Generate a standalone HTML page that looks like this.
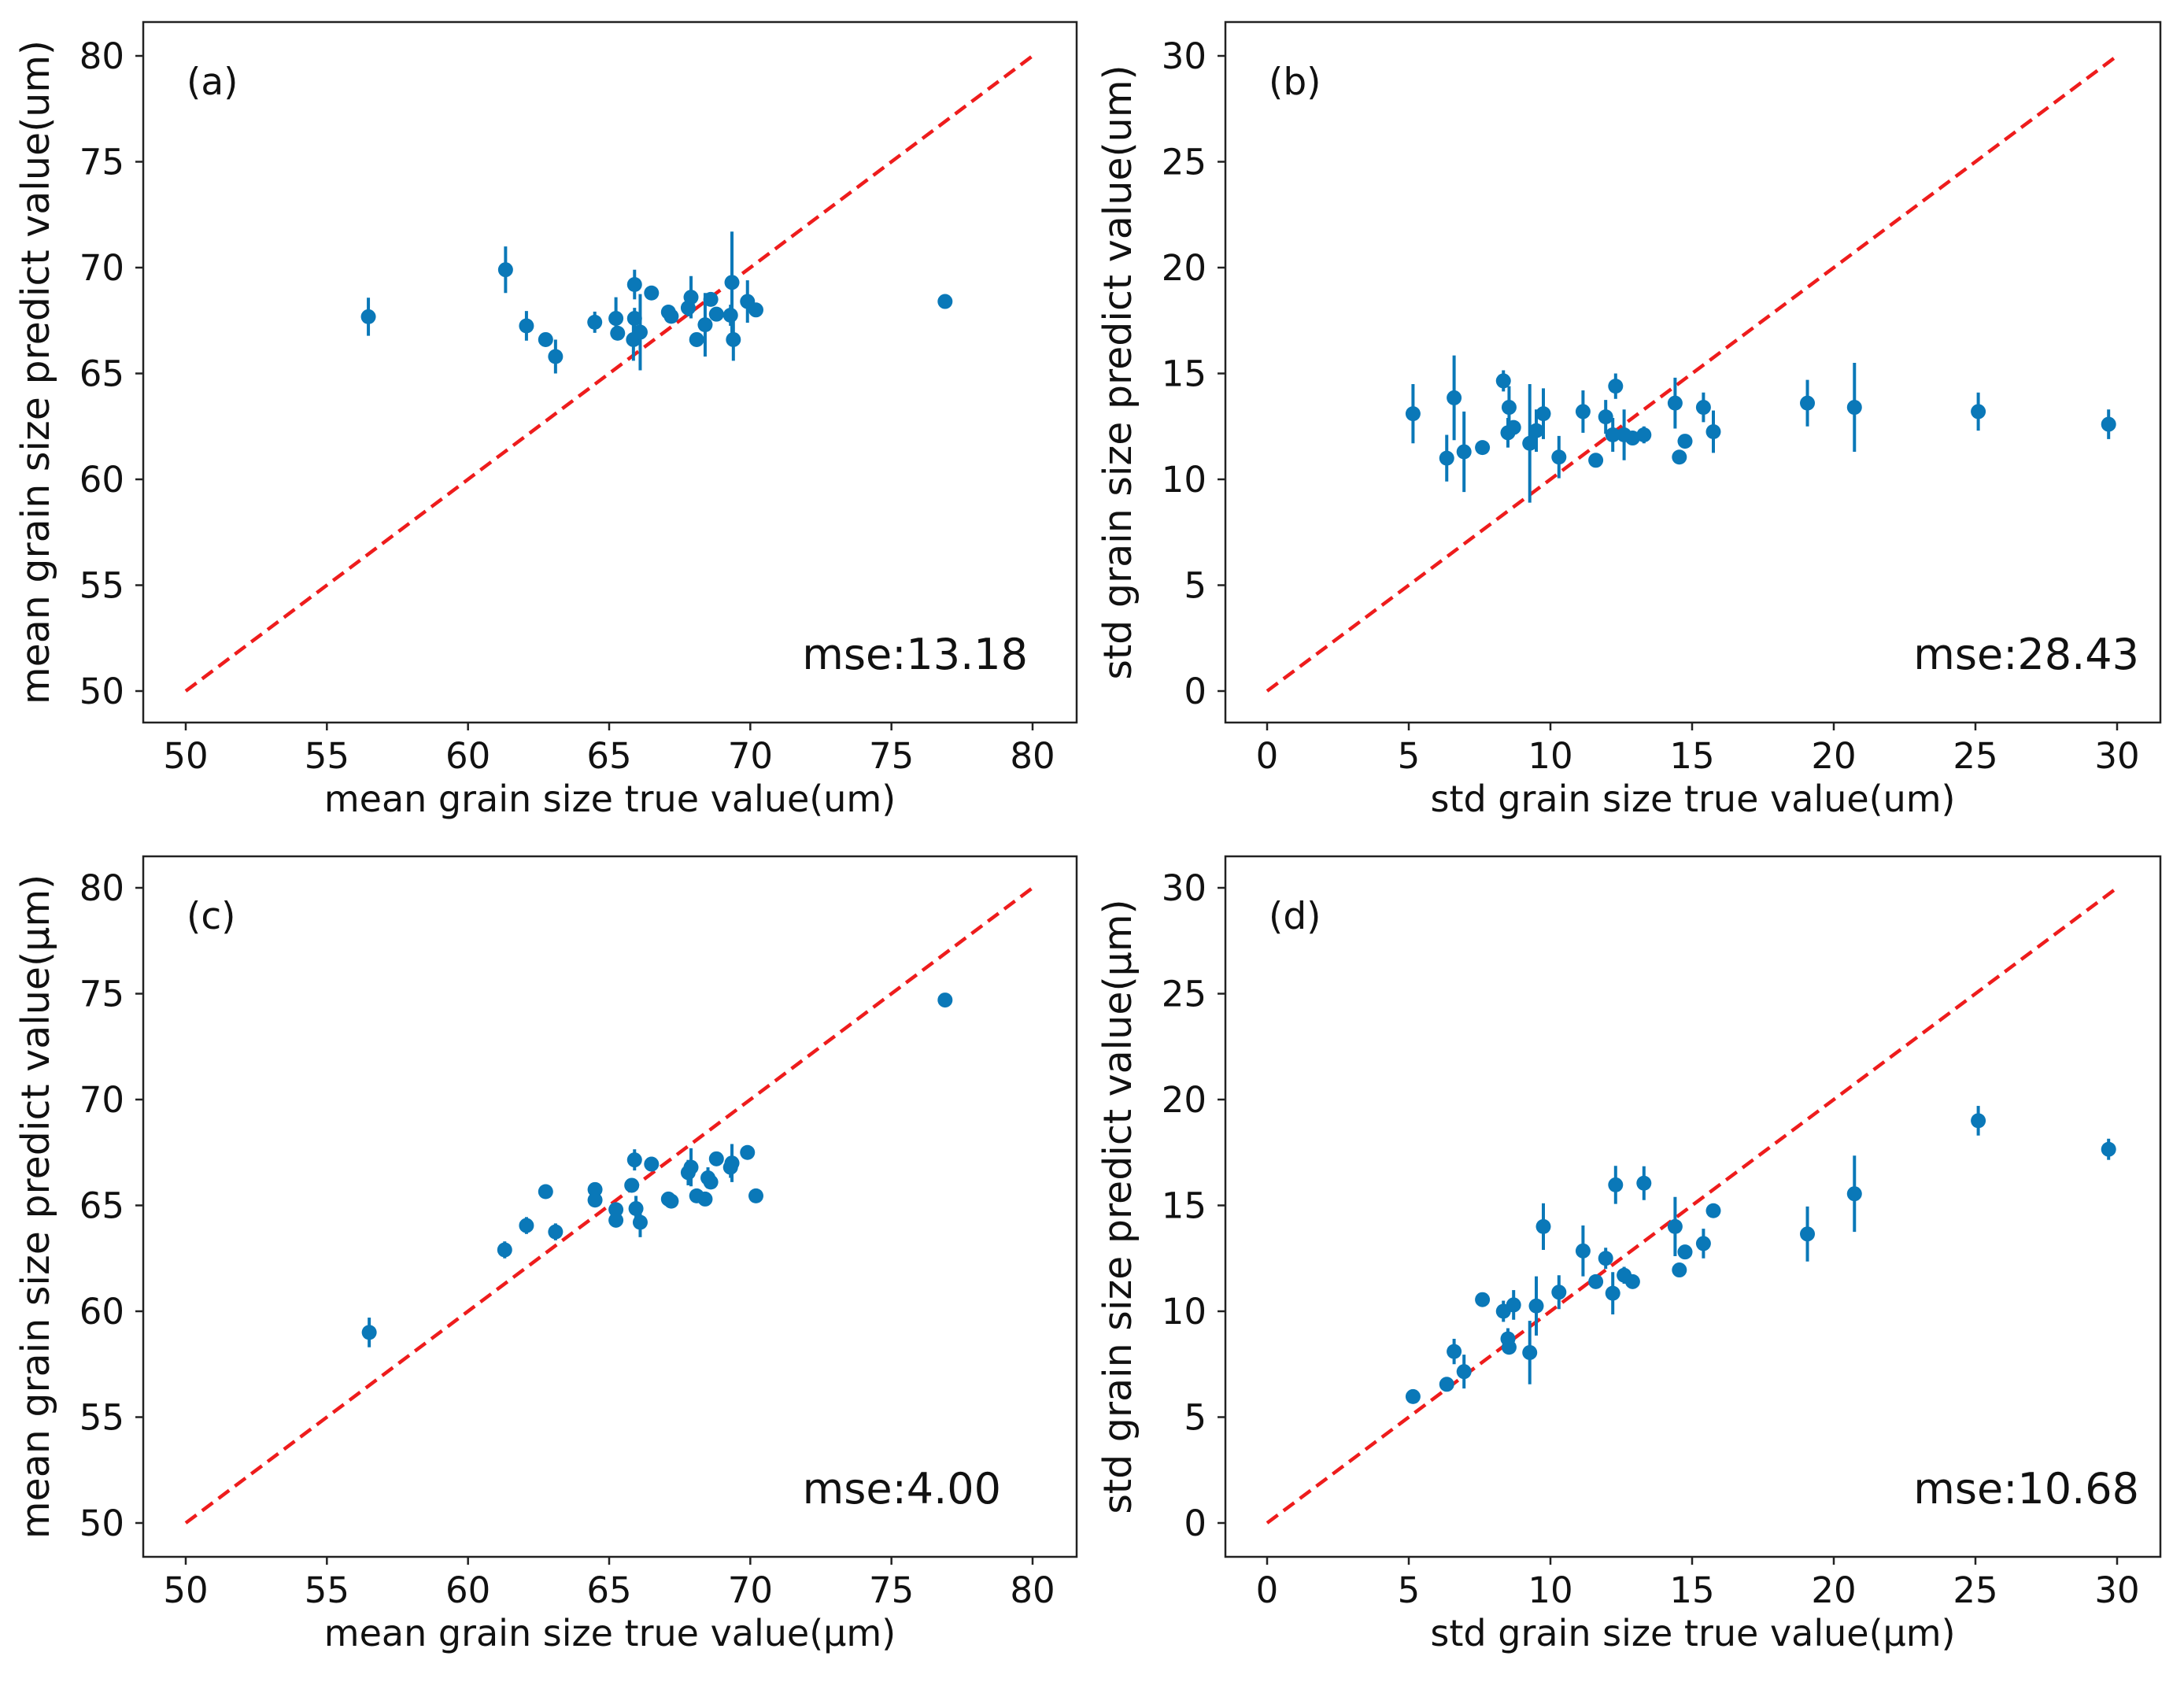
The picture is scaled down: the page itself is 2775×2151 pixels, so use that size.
<!DOCTYPE html>
<html><head><meta charset="utf-8">
<style>
html,body{margin:0;padding:0;background:#fff;}
svg{display:block;}
text{font-family:"DejaVu Sans","Liberation Sans",sans-serif;fill:#111;}
</style></head>
<body>
<svg id="fig" width="2775" height="2151" viewBox="0 0 2775 2151" xmlns="http://www.w3.org/2000/svg"></svg>
<script>
// Panel (a): mean, before
const aX = [56.47,61.33,62.07,62.75,63.1,64.49,65.24,65.3,65.9,65.9,65.86,66.1,66.5,67.1,67.2,67.8,67.9,68.1,68.4,68.6,68.8,69.35,69.3,69.4,69.9,70.2,76.9];
const aY = [67.68,69.9,67.25,66.6,65.8,67.42,67.6,66.9,69.2,67.6,66.6,66.95,68.8,67.9,67.7,68.1,68.6,66.6,67.3,68.5,67.8,69.3,67.75,66.6,68.4,68.0,68.4];
const aE = [0.9,1.1,0.7,0.3,0.8,0.5,1.0,0.2,0.7,0.5,1.0,1.8,0.2,0.3,0.3,0.4,1.0,0.2,1.5,0.3,0.3,2.4,0.5,1.0,1.0,0.3,0.2];
// Panel (b): std, before
const bX = [5.15,6.34,6.6,6.95,7.6,8.34,8.54,8.5,8.7,9.27,9.5,9.75,10.3,11.15,11.6,11.95,12.2,12.3,12.6,12.9,13.3,14.4,14.55,14.75,15.4,15.75,19.07,20.73,25.1,29.7];
const bY = [13.1,11.0,13.85,11.3,11.5,14.65,13.4,12.2,12.45,11.7,12.3,13.1,11.05,13.2,10.9,12.95,12.1,14.4,12.1,11.95,12.1,13.6,11.05,11.8,13.4,12.25,13.6,13.4,13.2,12.6];
const bE = [1.4,1.1,2.0,1.9,0.2,0.5,1.0,0.7,0.3,2.8,1.0,1.2,1.0,1.0,0.2,0.8,0.8,0.6,1.2,0.3,0.4,1.2,0.2,0.3,0.7,1.0,1.1,2.1,0.9,0.7];
// Panel (c): mean, after
const cX = [56.5,61.3,62.07,62.75,63.1,64.5,64.5,65.24,65.24,65.9,65.8,65.95,66.1,66.5,67.1,67.2,67.8,67.9,68.1,68.4,68.5,68.6,68.8,69.35,69.3,69.9,70.2,76.9];
const cY = [59.0,62.9,64.05,65.65,63.75,65.75,65.25,64.8,64.3,67.15,65.95,64.85,64.2,66.95,65.3,65.2,66.55,66.8,65.45,65.3,66.3,66.1,67.2,67.0,66.8,67.5,65.45,74.7];
const cE = [0.7,0.4,0.4,0.2,0.4,0.3,0.2,0.3,0.2,0.5,0.2,0.6,0.7,0.3,0.2,0.2,0.6,0.9,0.2,0.3,0.5,0.3,0.3,0.9,0.5,0.3,0.2,0.2];
// Panel (d): std, after
const dX = [5.15,6.34,6.6,6.95,7.6,8.34,8.5,8.54,8.7,9.27,9.5,9.75,10.3,11.15,11.6,11.95,12.2,12.3,12.6,12.9,13.3,14.4,14.55,14.75,15.4,15.75,19.07,20.73,25.1,29.7];
const dY = [5.97,6.55,8.1,7.15,10.55,10.0,8.7,8.3,10.3,8.05,10.25,14.0,10.9,12.85,11.4,12.5,10.85,15.97,11.7,11.4,16.05,14.0,11.95,12.8,13.2,14.75,13.65,15.55,19.0,17.65];
const dE = [0.2,0.2,0.6,0.8,0.2,0.5,0.5,0.3,0.7,1.5,1.4,1.1,0.8,1.2,0.3,0.5,1.0,0.9,0.4,0.3,0.8,1.4,0.3,0.3,0.7,0.2,1.3,1.8,0.7,0.5];
const meanTicks = [50,55,60,65,70,75,80];
const stdTicks = [0,5,10,15,20,25,30];
const mseLabels = ["mse:13.18","mse:28.43","mse:4.00","mse:10.68"];

const NS = "http://www.w3.org/2000/svg";
const svg = document.getElementById('fig');
function mk(tag, attrs, parent){
  const e = document.createElementNS(NS, tag);
  for (const k in attrs) e.setAttribute(k, attrs[k]);
  (parent||svg).appendChild(e);
  return e;
}

function panel(id, box, dom, ticks, xs, ys, es, xlabel, ylabel, tag, mse, mseRight){
  const g = mk('g', {});
  
  
  const [L, R, T, B] = box;
  const [px0, px1, py0, py1] = dom;
  const d0 = ticks[0], d1 = ticks[ticks.length-1];
  const sx = v => px0 + (v - d0) / (d1 - d0) * (px1 - px0);
  const sy = v => py0 + (v - d0) / (d1 - d0) * (py1 - py0);
  const fr = mk('rect', {x:L, y:T, width:R-L, height:B-T, fill:'none', stroke:'#222', 'stroke-width':2.5}, g);
  
  
  ticks.forEach(t => {
    const x = sx(t), y = sy(t);
    mk('line', {x1:x, x2:x, y1:B, y2:B+10, stroke:'#222', 'stroke-width':2.5}, g);
    const xt = mk('text', {x:x, y:B+58, 'font-size':45, 'text-anchor':'middle'}, g);
    xt.textContent = t;
    
    
    mk('line', {x1:L-10, x2:L, y1:y, y2:y, stroke:'#222', 'stroke-width':2.5}, g);
    const yt = mk('text', {x:L-24, y:y+16, 'font-size':45, 'text-anchor':'end'}, g);
    yt.textContent = t;
    
    
  });
  const xl = mk('text', {x:(L+R)/2, y:B+113, 'font-size':46, 'text-anchor':'middle'}, g);
  xl.textContent = xlabel;
  
  
  const ycx = L - 120, ycy = (T+B)/2;
  const yl = mk('text', {x:ycx, y:ycy, 'font-size':49, 'text-anchor':'middle', transform:`rotate(-90 ${ycx} ${ycy})`}, g);
  yl.textContent = ylabel;
  
  
  const ref = mk('line', {x1:sx(d0), y1:sy(d0), x2:sx(d1), y2:sy(d1), stroke:'#ee1c1c', 'stroke-width':4.5, 'stroke-dasharray':'17 9'}, g);
  
  
  xs.forEach((xv, i) => {
    const cx = sx(xv), cy = sy(ys[i]);
    const eb = mk('line', {x1:cx, x2:cx, y1:sy(ys[i]-es[i]), y2:sy(ys[i]+es[i]), stroke:'#0a78b8', 'stroke-width':4}, g);
    
    
    const pt = mk('circle', {cx:cx, cy:cy, r:9.5, fill:'#0a78b8'}, g);
    
    
  });
  const tg = mk('text', {x:L+55, y:T+92, 'font-size':47, 'font-family':'"Liberation Sans",sans-serif'}, g);
  tg.textContent = tag;
  
  
  const ms = mk('text', {x:R-mseRight, y:B-68, 'font-size':54, 'text-anchor':'end', 'font-family':'"Liberation Sans",sans-serif'}, g);
  ms.textContent = mse;
  
  
}

panel('a', [182,1368,28,918], [236,1312,878,71], meanTicks, aX, aY, aE,
  'mean grain size true value(um)', 'mean grain size predict value(um)', '(a)', mseLabels[0], 62);
panel('b', [1557,2745,28,918], [1610,2690,878,71], stdTicks, bX, bY, bE,
  'std grain size true value(um)', 'std grain size predict value(um)', '(b)', mseLabels[1], 27);
panel('c', [182,1368,1088,1978], [236,1312,1935,1128], meanTicks, cX, cY, cE,
  'mean grain size true value(μm)', 'mean grain size predict value(μm)', '(c)', mseLabels[2], 96);
panel('d', [1557,2745,1088,1978], [1610,2690,1935,1128], stdTicks, dX, dY, dE,
  'std grain size true value(μm)', 'std grain size predict value(μm)', '(d)', mseLabels[3], 27);
</script>
</body></html>
